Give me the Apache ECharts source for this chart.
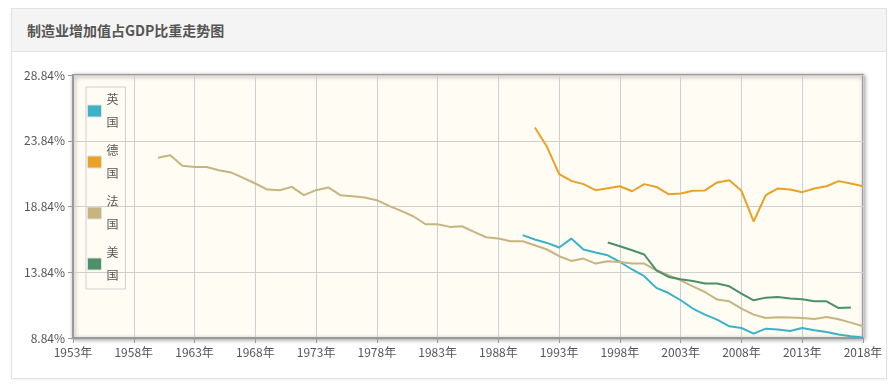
<!DOCTYPE html>
<html>
<head>
<meta charset="utf-8">
<script src="https://cdn.jsdelivr.net/npm/echarts@6/dist/echarts.min.js"></script>
<style>
html,body{margin:0;padding:0;background:#fff;width:896px;height:388px;overflow:hidden;}
#panel{position:absolute;left:11px;top:8px;width:876px;height:371px;border:1px solid #e2e2e2;box-sizing:border-box;box-shadow:0 1px 2px rgba(0,0,0,0.06);}
#head{position:absolute;left:0;top:0;right:0;height:42px;background:#f4f4f4;border-bottom:1px solid #e2e2e2;}
#title{position:absolute;left:15px;top:11px;font-family:"Noto Sans CJK SC",sans-serif;font-weight:bold;font-size:14px;color:#555;line-height:20px;}
#chart{position:absolute;left:0;top:0;width:896px;height:388px;}
</style>
</head>
<body>
<div id="panel"><div id="head"><span id="title">制造业增加值占GDP比重走势图</span></div></div>
<div id="chart"></div>
<script>
var seriesNames = ['英国', '德国', '法国', '美国'];
var seriesColors = ['#3ab3c8', '#e9a224', '#c7b47e', '#4b9068'];

var ukYears = [1990,1991,1992,1993,1994,1995,1996,1997,1998,1999,2000,2001,2002,2003,2004,2005,2006,2007,2008,2009,2010,2011,2012,2013,2014,2015,2016,2017,2018];
var ukValues = [16.66,16.33,16.07,15.72,16.40,15.57,15.34,15.13,14.62,14.05,13.54,12.65,12.26,11.71,11.08,10.62,10.24,9.73,9.60,9.17,9.55,9.48,9.37,9.60,9.43,9.30,9.10,8.97,8.87];

var deYears = [1991,1992,1993,1994,1995,1996,1997,1998,1999,2000,2001,2002,2003,2004,2005,2006,2007,2008,2009,2010,2011,2012,2013,2014,2015,2016,2017,2018];
var deValues = [24.85,23.38,21.30,20.79,20.54,20.08,20.23,20.38,20.00,20.54,20.33,19.78,19.83,20.03,20.06,20.67,20.84,20.03,17.70,19.70,20.21,20.13,19.93,20.21,20.38,20.77,20.59,20.38];

var frYears = [1960,1961,1962,1963,1964,1965,1966,1967,1968,1969,1970,1971,1972,1973,1974,1975,1976,1977,1978,1979,1980,1981,1982,1983,1984,1985,1986,1987,1988,1989,1990,1991,1992,1993,1994,1995,1996,1997,1998,1999,2000,2001,2002,2003,2004,2005,2006,2007,2008,2009,2010,2011,2012,2013,2014,2015,2016,2017,2018];
var frValues = [22.54,22.74,21.93,21.85,21.85,21.60,21.43,21.02,20.59,20.13,20.08,20.33,19.70,20.08,20.29,19.70,19.62,19.52,19.32,18.89,18.51,18.10,17.49,17.49,17.29,17.34,16.91,16.50,16.40,16.20,16.20,15.89,15.57,15.06,14.70,14.88,14.50,14.68,14.62,14.50,14.50,13.99,13.61,13.23,12.77,12.34,11.76,11.63,11.08,10.62,10.36,10.41,10.39,10.36,10.29,10.44,10.26,10.01,9.73];

var usYears = [1997,1998,1999,2000,2001,2002,2003,2004,2005,2006,2007,2008,2009,2010,2011,2012,2013,2014,2015,2016,2017];
var usValues = [16.10,15.82,15.51,15.19,13.99,13.48,13.31,13.18,12.98,12.98,12.77,12.22,11.71,11.91,11.96,11.84,11.79,11.63,11.63,11.12,11.15];

var xMin = 1953, xMax = 2018, xStep = 5;
var yMin = 8.84, yMax = 28.84, yStep = 5;

function pairs(ys, vs) { return ys.map(function (y, i) { return [y, vs[i]]; }); }
var allYears = [ukYears, deYears, frYears, usYears];
var allValues = [ukValues, deValues, frValues, usValues];

var chart = echarts.init(document.getElementById('chart'), null, {renderer: 'canvas'});
var font = '"Noto Sans CJK SC", sans-serif';
chart.setOption({
  animation: false,
  textStyle: {fontFamily: font},
  color: seriesColors,
  grid: {
    left: 73, right: 33, top: 75, bottom: 50,
    show: true,
    backgroundColor: '#fffcf4',
    borderColor: '#9a9a9a',
    borderWidth: 2,
    shadowColor: 'rgba(0,0,0,0.35)',
    shadowBlur: 4,
    shadowOffsetX: 1,
    shadowOffsetY: 1
  },
  legend: {
    orient: 'vertical',
    left: 86, top: 87,
    padding: [1, 7, 2, 1],
    itemGap: 5,
    itemWidth: 14, itemHeight: 12,
    icon: 'rect',
    borderColor: '#d0d0d0', borderWidth: 1,
    itemStyle: {borderColor: '#e0e0e0', borderWidth: 1},
    textStyle: {color: '#555', fontSize: 12, lineHeight: 23, fontFamily: font},
    formatter: function (n) { return n.split('').join('\n'); },
    data: seriesNames
  },
  xAxis: {
    type: 'value',
    min: xMin, max: xMax, interval: xStep,
    axisLine: {lineStyle: {color: '#9a9a9a', width: 2}},
    axisTick: {show: true, length: 5, lineStyle: {color: '#9a9a9a'}},
    axisLabel: {color: '#555', fontSize: 12, margin: 8, formatter: function (v) { return v + '年'; }},
    splitLine: {show: true, lineStyle: {color: '#cfcfcf', width: 1}}
  },
  yAxis: {
    type: 'value',
    min: yMin, max: yMax, interval: yStep,
    axisLine: {show: true, lineStyle: {color: '#9a9a9a', width: 2}},
    axisTick: {show: true, length: 5, lineStyle: {color: '#9a9a9a'}},
    axisLabel: {color: '#555', fontSize: 12, margin: 8, formatter: function (v) { return v.toFixed(2) + '%'; }},
    splitLine: {show: true, lineStyle: {color: '#cfcfcf', width: 1}}
  },
  series: seriesNames.map(function (n, i) {
    return {
      name: n, type: 'line', showSymbol: false, symbol: 'none',
      lineStyle: {width: 2, color: seriesColors[i]},
      data: pairs(allYears[i], allValues[i])
    };
  })
});
</script>
</body>
</html>
